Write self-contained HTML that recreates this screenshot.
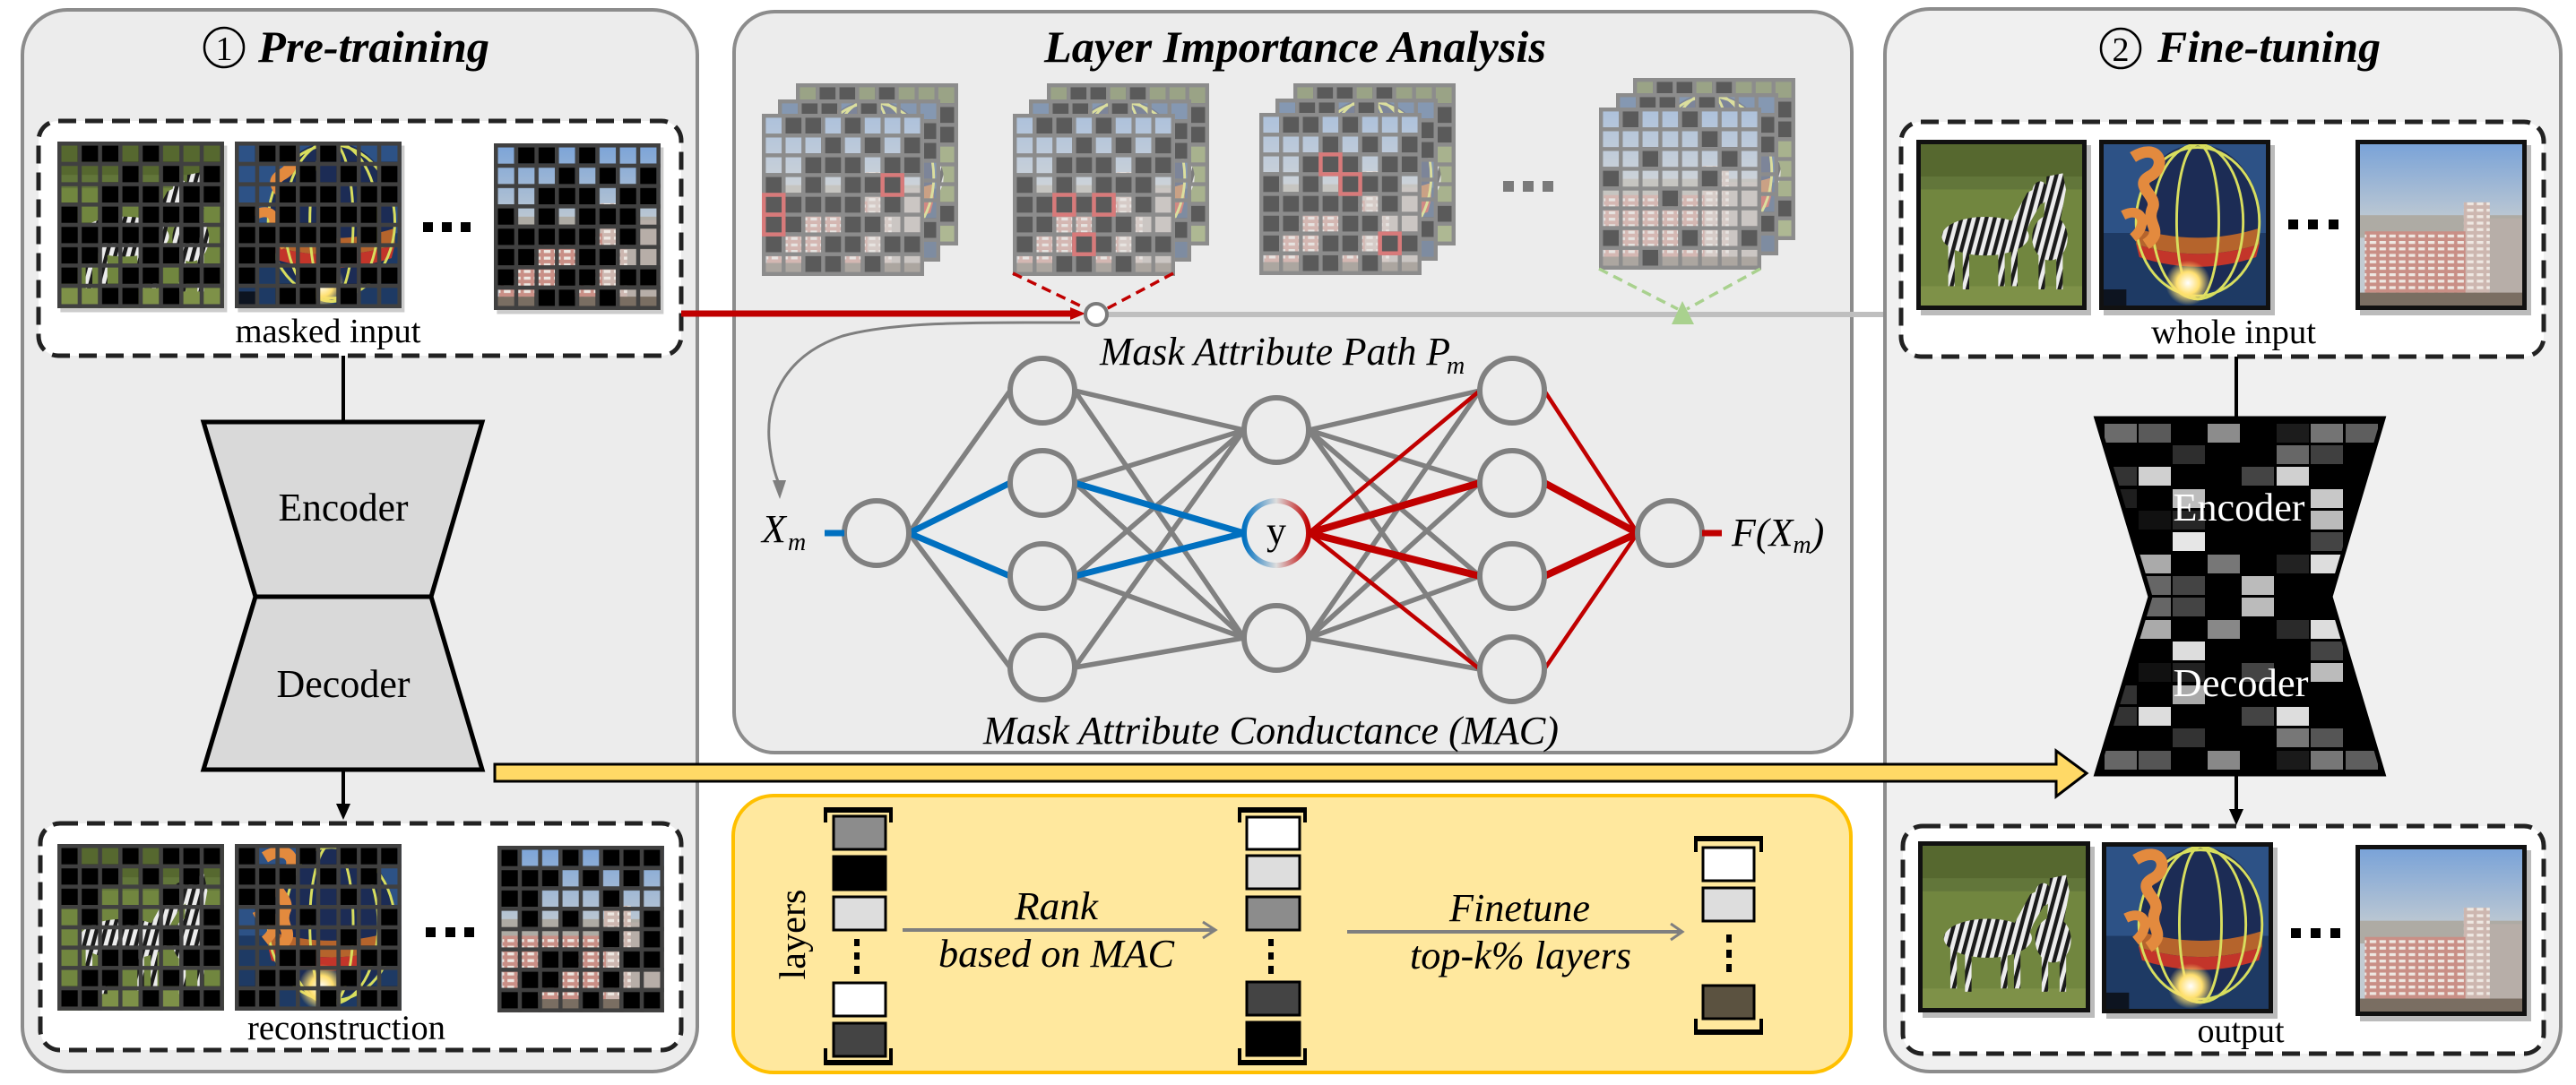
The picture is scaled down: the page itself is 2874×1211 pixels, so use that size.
<!DOCTYPE html>
<html><head><meta charset="utf-8">
<style>
html,body{margin:0;padding:0;background:#fff;}
svg{display:block;}
svg text{font-family:"Liberation Serif","DejaVu Serif",serif !important;}
</style></head><body>
<svg xmlns="http://www.w3.org/2000/svg" xmlns:xlink="http://www.w3.org/1999/xlink" width="2874" height="1211" viewBox="0 0 2874 1211" font-family="'Liberation Serif', 'DejaVu Serif', serif">
<defs>
<linearGradient id="sky" x1="0" y1="0" x2="0" y2="1"><stop offset="0" stop-color="#7aa3d8"/><stop offset="0.5" stop-color="#c2cbd2"/></linearGradient>
<radialGradient id="glow"><stop offset="0" stop-color="#ffffff"/><stop offset="0.5" stop-color="#ffe070"/><stop offset="1" stop-color="#ffe070" stop-opacity="0"/></radialGradient>
<linearGradient id="yg" x1="0" y1="0" x2="1" y2="0"><stop offset="0" stop-color="#0070c0"/><stop offset="0.5" stop-color="#dddddd"/><stop offset="1" stop-color="#c00000"/></linearGradient>
<pattern id="zst" width="5" height="5" patternUnits="userSpaceOnUse" patternTransform="rotate(15)"><rect width="5" height="5" fill="#ececec"/><rect width="2.4" height="5" fill="#1a1a1a"/></pattern>
<pattern id="win" width="6" height="4" patternUnits="userSpaceOnUse"><rect width="4" height="1.8" fill="#eee8e2"/></pattern>
<pattern id="gD" width="1" height="1" patternUnits="userSpaceOnUse"><path d="M0 0h1v0.2h-1zM0 0h0.2v1h-0.2z" fill="#404040"/></pattern>
<pattern id="gG" width="1" height="1" patternUnits="userSpaceOnUse"><path d="M0 0h1v0.2h-1zM0 0h0.2v1h-0.2z" fill="#8c8c8c"/></pattern>

<symbol id="zebra" viewBox="0 0 100 100" preserveAspectRatio="none">
<rect width="100" height="100" fill="#71863f"/>
<rect width="100" height="22" fill="#56682f"/>
<rect y="20" width="100" height="8" fill="#62763a"/>
<rect y="88" width="100" height="12" fill="#7e9148"/>
<g fill="url(#zst)">
<ellipse cx="40" cy="57" rx="27" ry="12"/>
<polygon points="54,52 66,30 74,26 76,34 68,48 62,62"/>
<ellipse cx="74" cy="30" rx="5" ry="7"/>
<rect x="17" y="62" width="4" height="26"/><rect x="26" y="64" width="4" height="26"/>
<rect x="48" y="64" width="4" height="24"/><rect x="56" y="62" width="4" height="26"/>
<ellipse cx="80" cy="58" rx="11" ry="14"/>
<polygon points="76,50 78,20 88,18 90,28 86,50"/>
<rect x="73" y="66" width="4" height="24"/><rect x="84" y="66" width="4" height="24"/>
</g>
</symbol>

<symbol id="balloon" viewBox="0 0 100 100" preserveAspectRatio="none">
<rect width="100" height="100" fill="#2d5286"/>
<rect y="55" width="100" height="45" fill="#1e3a64"/>
<ellipse cx="58" cy="46" rx="38" ry="46" fill="#1c2c55"/>
<path d="M20 52 Q58 64 96 52 L96 62 Q58 74 20 62Z" fill="#b5642c"/>
<path d="M20 62 Q58 74 96 62 L94 70 Q58 82 22 70Z" fill="#c3352a"/>
<g fill="none" stroke="#d8de5e" stroke-width="1.6"><ellipse cx="58" cy="48" rx="13" ry="48"/><ellipse cx="58" cy="48" rx="28" ry="48"/><ellipse cx="58" cy="48" rx="38" ry="46"/></g>
<path d="M18 8 C34 -2 40 14 28 20 C18 26 34 32 30 40 C26 50 38 54 26 62" fill="none" stroke="#e38a3e" stroke-width="7"/>
<path d="M12 44 C24 38 28 50 18 58" fill="none" stroke="#e38a3e" stroke-width="6"/>
<circle cx="52" cy="86" r="14" fill="url(#glow)"/>
<rect y="90" width="14" height="10" fill="#0d1420"/>
</symbol>

<symbol id="building" viewBox="0 0 100 100" preserveAspectRatio="none">
<rect width="100" height="100" fill="url(#sky)"/>
<rect y="44" width="100" height="14" fill="#aeaba4"/>
<rect x="64" y="36" width="16" height="64" fill="#cdb7b0"/>
<rect x="80" y="46" width="20" height="54" fill="#b7aea8"/>
<rect x="3" y="54" width="62" height="46" fill="#c98f86"/>
<rect x="3" y="54" width="62" height="46" fill="url(#win)"/>
<rect x="64" y="36" width="16" height="64" fill="url(#win)"/>
<rect y="92" width="100" height="8" fill="#7a6e62"/>
</symbol>

<path id="mA" d="M1 0h2v1h-2zM4 0h1v1h-1zM3 1h1v1h-1zM5 1h1v1h-1zM7 1h1v1h-1zM2 2h3v1h-3zM6 2h2v1h-2zM0 3h1v1h-1zM2 3h1v1h-1zM4 3h3v1h-3zM0 4h5v1h-5zM6 4h1v1h-1zM0 5h2v1h-2zM4 5h2v1h-2zM0 6h1v1h-1zM3 6h2v1h-2zM6 6h2v1h-2zM2 7h2v1h-2zM5 7h1v1h-1z"/>
<path id="mB" d="M0 0h1v1h-1zM3 0h1v1h-1zM5 0h3v1h-3zM0 1h3v1h-3zM4 1h1v1h-1zM6 1h1v1h-1zM0 2h2v1h-2zM5 2h1v1h-1zM1 3h1v1h-1zM3 3h1v1h-1zM7 3h1v1h-1zM5 4h1v1h-1zM7 4h1v1h-1zM2 5h2v1h-2zM6 5h2v1h-2zM1 6h2v1h-2zM5 6h1v1h-1zM0 7h2v1h-2zM4 7h1v1h-1zM6 7h2v1h-2z"/>
<path id="mC" d="M1 0h1v1h-1zM4 0h1v1h-1zM5 1h1v1h-1zM2 2h1v1h-1zM6 2h1v1h-1zM0 3h1v1h-1zM5 3h1v1h-1zM3 4h1v1h-1zM0 6h1v1h-1zM4 6h1v1h-1zM7 6h1v1h-1zM2 7h1v1h-1z"/>

<g id="iz"><rect x="0.15" y="0.2" width="8.2" height="8.2" fill="#999" opacity="0.5"/><use href="#zebra" xlink:href="#zebra" width="8.2" height="8.2"/><use href="#mA" xlink:href="#mA" fill="#000"/><rect width="8.2" height="8.2" fill="url(#gD)"/></g>
<g id="ib"><rect x="0.15" y="0.2" width="8.2" height="8.2" fill="#999" opacity="0.5"/><use href="#balloon" xlink:href="#balloon" width="8.2" height="8.2"/><use href="#mA" xlink:href="#mA" fill="#000"/><rect width="8.2" height="8.2" fill="url(#gD)"/></g>
<g id="ibd"><rect x="0.15" y="0.2" width="8.2" height="8.2" fill="#999" opacity="0.5"/><use href="#building" xlink:href="#building" width="8.2" height="8.2"/><use href="#mA" xlink:href="#mA" fill="#000"/><rect width="8.2" height="8.2" fill="url(#gD)"/></g>
<g id="rz"><use href="#zebra" xlink:href="#zebra" width="8.2" height="8.2"/><use href="#mB" xlink:href="#mB" fill="#000"/><rect width="8.2" height="8.2" fill="url(#gD)"/></g>
<g id="rb"><use href="#balloon" xlink:href="#balloon" width="8.2" height="8.2"/><use href="#mB" xlink:href="#mB" fill="#000"/><rect width="8.2" height="8.2" fill="url(#gD)"/></g>
<g id="rbd"><use href="#building" xlink:href="#building" width="8.2" height="8.2"/><use href="#mB" xlink:href="#mB" fill="#000"/><rect width="8.2" height="8.2" fill="url(#gD)"/></g>

<g id="fz"><rect width="8.2" height="8.2" fill="#e0e0e0"/><use href="#zebra" xlink:href="#zebra" width="8.2" height="8.2" opacity="0.5"/><use href="#mA" xlink:href="#mA" fill="#5a5a5a"/><rect width="8.2" height="8.2" fill="url(#gG)"/></g>
<g id="fm"><rect width="8.2" height="8.2" fill="#e0e0e0"/><use href="#balloon" xlink:href="#balloon" width="8.2" height="8.2" opacity="0.5"/><use href="#mA" xlink:href="#mA" fill="#5a5a5a"/><rect width="8.2" height="8.2" fill="url(#gG)"/></g>
<g id="fb"><rect width="8.2" height="8.2" fill="#e0e0e0"/><use href="#building" xlink:href="#building" width="8.2" height="8.2" opacity="0.5"/><use href="#mA" xlink:href="#mA" fill="#5a5a5a"/><rect width="8.2" height="8.2" fill="url(#gG)"/></g>
<g id="fb4"><rect width="8.2" height="8.2" fill="#e0e0e0"/><use href="#building" xlink:href="#building" width="8.2" height="8.2" opacity="0.5"/><use href="#mC" xlink:href="#mC" fill="#5a5a5a"/><rect width="8.2" height="8.2" fill="url(#gG)"/></g>

<clipPath id="hg"><polygon points="2339,467 2659,467 2600,666 2659,864 2339,864 2399,666"/></clipPath>
</defs>

<rect width="2874" height="1211" fill="#fff"/>

<!-- ================= LEFT PANEL ================= -->
<rect x="25" y="11" width="753" height="1185" rx="50" fill="#ececec" stroke="#8c8c8c" stroke-width="4"/>
<circle cx="250" cy="53" r="22" fill="none" stroke="#000" stroke-width="2.5"/>
<text x="250" y="67" font-size="38" text-anchor="middle">1</text>
<text x="288" y="69" font-size="50" font-weight="bold" font-style="italic" textLength="258" lengthAdjust="spacingAndGlyphs">Pre-training</text>

<rect x="43" y="135" width="717" height="262" rx="22" fill="#fff" stroke="#222" stroke-width="5" stroke-dasharray="20 10"/>
<use href="#iz" xlink:href="#iz" transform="translate(64,158) scale(22.68)"/>
<use href="#ib" xlink:href="#ib" transform="translate(262,158) scale(22.68)"/>
<use href="#ibd" xlink:href="#ibd" transform="translate(551,160) scale(22.68)"/>
<g fill="#000"><rect x="472" y="248" width="11" height="11"/><rect x="493" y="248" width="11" height="11"/><rect x="514" y="248" width="11" height="11"/></g>
<text x="366" y="382" font-size="38" text-anchor="middle" textLength="207" lengthAdjust="spacingAndGlyphs">masked input</text>

<line x1="383" y1="397" x2="383" y2="470" stroke="#000" stroke-width="4"/>
<polygon points="227,471 538,471 481,666 285,666" fill="#d9d9d9" stroke="#000" stroke-width="5" stroke-linejoin="miter"/>
<polygon points="285,666 481,666 538,859 227,859" fill="#d9d9d9" stroke="#000" stroke-width="5" stroke-linejoin="miter"/>
<text x="383" y="581" font-size="44" text-anchor="middle" textLength="145" lengthAdjust="spacingAndGlyphs">Encoder</text>
<text x="383" y="778" font-size="44" text-anchor="middle" textLength="149" lengthAdjust="spacingAndGlyphs">Decoder</text>
<line x1="383" y1="860" x2="383" y2="900" stroke="#000" stroke-width="4"/>
<polygon points="375,897 391,897 383,915" fill="#000"/>

<rect x="45" y="919" width="715" height="253" rx="22" fill="#fff" stroke="#222" stroke-width="5" stroke-dasharray="20 10"/>
<use href="#rz" xlink:href="#rz" transform="translate(64,942) scale(22.68)"/>
<use href="#rb" xlink:href="#rb" transform="translate(262,942) scale(22.68)"/>
<use href="#rbd" xlink:href="#rbd" transform="translate(555,944) scale(22.68)"/>
<g fill="#000"><rect x="475" y="1035" width="11" height="11"/><rect x="497" y="1035" width="11" height="11"/><rect x="518" y="1035" width="11" height="11"/></g>
<text x="276" y="1160" font-size="39" textLength="221" lengthAdjust="spacingAndGlyphs">reconstruction</text>

<!-- ================= MIDDLE PANEL ================= -->
<rect x="819" y="13" width="1247" height="827" rx="45" fill="#ececec" stroke="#8c8c8c" stroke-width="4"/>
<text x="1165" y="69" font-size="50" font-weight="bold" font-style="italic" textLength="560" lengthAdjust="spacingAndGlyphs">Layer Importance Analysis</text>

<use href="#fz" xlink:href="#fz" transform="translate(888,93) scale(22.07)"/>
<use href="#fm" xlink:href="#fm" transform="translate(868,111) scale(22.07)"/>
<use href="#fb" xlink:href="#fb" transform="translate(850,127) scale(22.07)"/>
<g transform="translate(850,127) scale(22.07)" fill="none" stroke="#d87a7a" stroke-width="0.2"><rect x="6.1" y="3.1" width="1" height="1"/><rect x="0.1" y="4.1" width="1" height="1"/><rect x="0.1" y="5.1" width="1" height="1"/></g>

<use href="#fz" xlink:href="#fz" transform="translate(1168,93) scale(22.07)"/>
<use href="#fm" xlink:href="#fm" transform="translate(1148,111) scale(22.07)"/>
<use href="#fb" xlink:href="#fb" transform="translate(1130,127) scale(22.07)"/>
<g transform="translate(1130,127) scale(22.07)" fill="none" stroke="#d87a7a" stroke-width="0.2"><rect x="2.1" y="4.1" width="1" height="1"/><rect x="4.1" y="4.1" width="1" height="1"/><rect x="3.1" y="6.1" width="1" height="1"/></g>

<use href="#fz" xlink:href="#fz" transform="translate(1443,93) scale(22.07)"/>
<use href="#fm" xlink:href="#fm" transform="translate(1423,110) scale(22.07)"/>
<use href="#fb" xlink:href="#fb" transform="translate(1405,126) scale(22.07)"/>
<g transform="translate(1405,126) scale(22.07)" fill="none" stroke="#d87a7a" stroke-width="0.2"><rect x="3.1" y="2.1" width="1" height="1"/><rect x="4.1" y="3.1" width="1" height="1"/><rect x="6.1" y="6.1" width="1" height="1"/></g>

<g fill="#7a7a7a"><rect x="1677" y="202" width="12" height="12"/><rect x="1699" y="202" width="12" height="12"/><rect x="1721" y="202" width="12" height="12"/></g>

<use href="#fz" xlink:href="#fz" transform="translate(1822,87) scale(22.07)"/>
<use href="#fm" xlink:href="#fm" transform="translate(1803,104) scale(22.07)"/>
<use href="#fb4" xlink:href="#fb4" transform="translate(1784,120) scale(22.07)"/>

<g fill="none" stroke="#c00000" stroke-width="3.5" stroke-dasharray="11 7"><line x1="1130" y1="305" x2="1213" y2="345"/><line x1="1309" y1="305" x2="1234" y2="345"/></g>
<g fill="none" stroke="#a9d18e" stroke-width="3.5" stroke-dasharray="11 7"><line x1="1784" y1="300" x2="1872" y2="345"/><line x1="1964" y1="300" x2="1882" y2="345"/></g>

<line x1="1236" y1="351" x2="2121" y2="351" stroke="#bfbfbf" stroke-width="6"/>
<line x1="760" y1="350" x2="1200" y2="350" stroke="#c00000" stroke-width="7"/>
<polygon points="1194,343 1211,350 1194,357" fill="#c00000"/>
<polygon points="1877,336 1865,362 1890,362" fill="#a9d18e"/>
<circle cx="1223" cy="351" r="12" fill="#fff" stroke="#7a7a7a" stroke-width="4"/>

<path d="M1205 360 C1100 360 1000 358 940 375 C880 395 855 440 858 490 C860 515 865 530 869 540" fill="none" stroke="#7f7f7f" stroke-width="3"/>
<polygon points="862,536 877,536 870,557" fill="#7f7f7f"/>

<text x="1227" y="407" font-size="44" font-style="italic" textLength="391" lengthAdjust="spacingAndGlyphs">Mask Attribute Path P</text>
<text x="1614" y="417" font-size="28" font-style="italic">m</text>

<path d="M1014 595L1127 436M1014 595L1127 745M1199 436L1388 480M1199 436L1388 712M1199 539L1388 480M1199 539L1388 712M1199 643L1388 480M1199 643L1388 712M1199 745L1388 480M1199 745L1388 712M1460 480L1651 436M1460 480L1651 539M1460 480L1651 643M1460 480L1651 747M1460 712L1651 436M1460 712L1651 539M1460 712L1651 643M1460 712L1651 747" stroke="#808080" stroke-width="5.5" fill="none"/>
<path d="M1014 595L1127 539M1014 595L1127 643M1199 539L1388 595M1199 643L1388 595" stroke="#0070c0" stroke-width="7" fill="none"/>
<path d="M1460 595L1651 436M1460 595L1651 747M1723 436L1827 595M1723 747L1827 595" stroke="#c00000" stroke-width="4.5" fill="none"/>
<path d="M1460 595L1651 539M1460 595L1651 643M1723 539L1827 595M1723 643L1827 595" stroke="#c00000" stroke-width="8" fill="none"/>

<g fill="#ececec" stroke="#808080" stroke-width="6">
<circle cx="978" cy="595" r="36"/>
<circle cx="1163" cy="436" r="36"/><circle cx="1163" cy="539" r="36"/><circle cx="1163" cy="643" r="36"/><circle cx="1163" cy="745" r="36"/>
<circle cx="1424" cy="480" r="36"/><circle cx="1424" cy="712" r="36"/>
<circle cx="1687" cy="436" r="36"/><circle cx="1687" cy="539" r="36"/><circle cx="1687" cy="643" r="36"/><circle cx="1687" cy="747" r="36"/>
<circle cx="1863" cy="595" r="36"/>
</g>
<circle cx="1424" cy="595" r="36" fill="#ececec" stroke="url(#yg)" stroke-width="6"/>
<text x="1424" y="607" font-size="44" text-anchor="middle">y</text>

<line x1="920" y1="595" x2="942" y2="595" stroke="#0070c0" stroke-width="7"/>
<line x1="1899" y1="595" x2="1921" y2="595" stroke="#c00000" stroke-width="7"/>
<text x="850" y="605" font-size="44" font-style="italic">X</text>
<text x="879" y="614" font-size="28" font-style="italic">m</text>
<text x="1932" y="609" font-size="44" font-style="italic">F(X<tspan font-size="28" dy="8">m</tspan><tspan font-size="44" dy="-8">)</tspan></text>

<text x="1097" y="830" font-size="44" font-style="italic" textLength="642" lengthAdjust="spacingAndGlyphs">Mask Attribute Conductance (MAC)</text>

<!-- ================= YELLOW BOX ================= -->
<rect x="818" y="888" width="1247" height="309" rx="45" fill="#ffe89e" stroke="#ffc000" stroke-width="4"/>
<text transform="translate(898,1043) rotate(-90)" font-size="41" text-anchor="middle" textLength="101" lengthAdjust="spacingAndGlyphs">layers</text>

<g fill="#000">
<rect x="919" y="901" width="77" height="6"/><rect x="919" y="901" width="4" height="17"/><rect x="992" y="901" width="4" height="17"/>
<rect x="919" y="1183" width="77" height="6"/><rect x="919" y="1170" width="4" height="19"/><rect x="992" y="1170" width="4" height="19"/>
<rect x="953" y="1048" width="6" height="8"/><rect x="953" y="1063" width="6" height="8"/><rect x="953" y="1078" width="6" height="9"/>
</g>
<g stroke="#000" stroke-width="3">
<rect x="930" y="911" width="58" height="37" fill="#8c8c8c"/>
<rect x="930" y="956" width="58" height="37" fill="#000"/>
<rect x="930" y="1001" width="58" height="37" fill="#dddddd"/>
<rect x="930" y="1097" width="58" height="37" fill="#ffffff"/>
<rect x="930" y="1142" width="58" height="37" fill="#444444"/>
</g>

<g fill="#000">
<rect x="1381" y="901" width="77" height="6"/><rect x="1381" y="901" width="4" height="17"/><rect x="1454" y="901" width="4" height="17"/>
<rect x="1381" y="1183" width="77" height="6"/><rect x="1381" y="1170" width="4" height="19"/><rect x="1454" y="1170" width="4" height="19"/>
<rect x="1415" y="1048" width="6" height="8"/><rect x="1415" y="1063" width="6" height="8"/><rect x="1415" y="1078" width="6" height="9"/>
</g>
<g stroke="#000" stroke-width="3">
<rect x="1391" y="912" width="59" height="36" fill="#ffffff"/>
<rect x="1391" y="955" width="59" height="37" fill="#dddddd"/>
<rect x="1391" y="1001" width="59" height="37" fill="#8c8c8c"/>
<rect x="1391" y="1096" width="59" height="37" fill="#444444"/>
<rect x="1391" y="1141" width="59" height="37" fill="#000000"/>
</g>

<g fill="#000">
<rect x="1890" y="933" width="77" height="6"/><rect x="1890" y="933" width="4" height="18"/><rect x="1963" y="933" width="4" height="18"/>
<rect x="1890" y="1149" width="77" height="6"/><rect x="1890" y="1137" width="4" height="18"/><rect x="1963" y="1137" width="4" height="18"/>
<rect x="1926" y="1043" width="6" height="9"/><rect x="1926" y="1060" width="6" height="9"/><rect x="1926" y="1076" width="6" height="9"/>
</g>
<g stroke="#000" stroke-width="3">
<rect x="1900" y="946" width="57" height="37" fill="#ffffff"/>
<rect x="1900" y="991" width="57" height="37" fill="#dddddd"/>
<rect x="1900" y="1100" width="57" height="37" fill="#5b5240"/>
</g>

<line x1="1007" y1="1038" x2="1354" y2="1038" stroke="#7f7f7f" stroke-width="4"/>
<polyline points="1342,1029 1356,1038 1342,1047" fill="none" stroke="#7f7f7f" stroke-width="3"/>
<line x1="1503" y1="1040" x2="1874" y2="1040" stroke="#7f7f7f" stroke-width="4"/>
<polyline points="1864,1031 1877,1040 1864,1049" fill="none" stroke="#7f7f7f" stroke-width="3"/>

<text x="1132" y="1026" font-size="44" font-style="italic" textLength="93" lengthAdjust="spacingAndGlyphs">Rank</text>
<text x="1047" y="1079" font-size="44" font-style="italic" textLength="263" lengthAdjust="spacingAndGlyphs">based on MAC</text>
<text x="1617" y="1028" font-size="44" font-style="italic" textLength="157" lengthAdjust="spacingAndGlyphs">Finetune</text>
<text x="1573" y="1081" font-size="44" font-style="italic" textLength="247" lengthAdjust="spacingAndGlyphs">top-k% layers</text>

<!-- ================= RIGHT PANEL ================= -->
<rect x="2103" y="10" width="754" height="1186" rx="50" fill="#f0f0f0" stroke="#8c8c8c" stroke-width="4"/>
<circle cx="2366" cy="54" r="22" fill="none" stroke="#000" stroke-width="2.5"/>
<text x="2366" y="68" font-size="38" text-anchor="middle">2</text>
<text x="2407" y="69" font-size="50" font-weight="bold" font-style="italic" textLength="249" lengthAdjust="spacingAndGlyphs">Fine-tuning</text>

<rect x="2121" y="136" width="717" height="262" rx="22" fill="#fff" stroke="#222" stroke-width="5" stroke-dasharray="20 10"/>
<g fill="#bbb"><rect x="2143" y="162" width="190" height="190"/><rect x="2347" y="162" width="191" height="190"/><rect x="2633" y="162" width="191" height="190"/></g>
<g fill="#111"><rect x="2138" y="156" width="190" height="190"/><rect x="2342" y="156" width="191" height="190"/><rect x="2628" y="156" width="191" height="190"/></g>
<use href="#zebra" xlink:href="#zebra" x="2143" y="161" width="180" height="180"/>
<use href="#balloon" xlink:href="#balloon" x="2347" y="161" width="181" height="180"/>
<use href="#building" xlink:href="#building" x="2633" y="161" width="181" height="180"/>
<g fill="#000"><rect x="2553" y="245" width="11" height="11"/><rect x="2575" y="245" width="11" height="11"/><rect x="2598" y="245" width="11" height="11"/></g>
<text x="2492" y="383" font-size="38" text-anchor="middle" textLength="184" lengthAdjust="spacingAndGlyphs">whole input</text>

<line x1="2495" y1="398" x2="2495" y2="468" stroke="#000" stroke-width="4"/>

<polygon points="2339,467 2659,467 2600,666 2659,864 2339,864 2399,666" fill="#000"/>
<g clip-path="url(#hg)">
<rect x="2348" y="473" width="36" height="21" fill="#6b6b6b"/><rect x="2386" y="473" width="36" height="21" fill="#5a5a5a"/><rect x="2463" y="473" width="36" height="21" fill="#8c8c8c"/><rect x="2540" y="473" width="36" height="21" fill="#1c1c1c"/><rect x="2578" y="473" width="36" height="21" fill="#747474"/><rect x="2617" y="473" width="36" height="21" fill="#5e5e5e"/>
<rect x="2424" y="497" width="36" height="21" fill="#2e2e2e"/><rect x="2540" y="497" width="36" height="21" fill="#676767"/><rect x="2578" y="497" width="36" height="21" fill="#404040"/>
<rect x="2348" y="521" width="36" height="21" fill="#333"/><rect x="2386" y="521" width="36" height="21" fill="#d0d0d0"/><rect x="2501" y="521" width="36" height="21" fill="#444"/><rect x="2540" y="521" width="36" height="21" fill="#d0d0d0"/>
<rect x="2348" y="546" width="36" height="21" fill="#1e1e1e"/><rect x="2424" y="546" width="36" height="21" fill="#bdbdbd"/><rect x="2578" y="546" width="36" height="21" fill="#c8c8c8"/>
<rect x="2386" y="570" width="36" height="21" fill="#111"/><rect x="2424" y="570" width="36" height="21" fill="#262626"/><rect x="2578" y="570" width="36" height="21" fill="#bbb"/>
<rect x="2424" y="594" width="36" height="21" fill="#e6e6e6"/><rect x="2578" y="594" width="36" height="21" fill="#444"/>
<rect x="2386" y="619" width="36" height="21" fill="#aaa"/><rect x="2463" y="619" width="36" height="21" fill="#777"/><rect x="2540" y="619" width="36" height="21" fill="#222"/><rect x="2578" y="619" width="36" height="21" fill="#ddd"/>
<rect x="2386" y="643" width="36" height="21" fill="#666"/><rect x="2424" y="643" width="36" height="21" fill="#444"/><rect x="2501" y="643" width="36" height="21" fill="#bbb"/>
<rect x="2386" y="667" width="36" height="21" fill="#666"/><rect x="2424" y="667" width="36" height="21" fill="#444"/><rect x="2501" y="667" width="36" height="21" fill="#bbb"/>
<rect x="2386" y="692" width="36" height="21" fill="#aaa"/><rect x="2463" y="692" width="36" height="21" fill="#888"/><rect x="2540" y="692" width="36" height="21" fill="#2a2a2a"/><rect x="2578" y="692" width="36" height="21" fill="#ddd"/>
<rect x="2424" y="716" width="36" height="21" fill="#ddd"/><rect x="2578" y="716" width="36" height="21" fill="#444"/>
<rect x="2386" y="740" width="36" height="21" fill="#111"/><rect x="2424" y="740" width="36" height="21" fill="#222"/><rect x="2501" y="740" width="36" height="21" fill="#444"/><rect x="2578" y="740" width="36" height="21" fill="#bbb"/>
<rect x="2348" y="765" width="36" height="21" fill="#333"/><rect x="2424" y="765" width="36" height="21" fill="#aaa"/>
<rect x="2348" y="789" width="36" height="21" fill="#333"/><rect x="2386" y="789" width="36" height="21" fill="#ddd"/><rect x="2501" y="789" width="36" height="21" fill="#444"/><rect x="2540" y="789" width="36" height="21" fill="#ddd"/>
<rect x="2424" y="813" width="36" height="21" fill="#333"/><rect x="2540" y="813" width="36" height="21" fill="#777"/><rect x="2578" y="813" width="36" height="21" fill="#555"/>
<rect x="2348" y="838" width="36" height="21" fill="#666"/><rect x="2386" y="838" width="36" height="21" fill="#555"/><rect x="2463" y="838" width="36" height="21" fill="#888"/><rect x="2540" y="838" width="36" height="21" fill="#1a1a1a"/><rect x="2578" y="838" width="36" height="21" fill="#777"/><rect x="2617" y="838" width="36" height="21" fill="#5e5e5e"/>
</g>
<polygon points="2339,467 2659,467 2600,666 2659,864 2339,864 2399,666" fill="none" stroke="#000" stroke-width="5"/>
<text x="2498" y="581" font-size="44" fill="#fff" text-anchor="middle" textLength="147" lengthAdjust="spacingAndGlyphs">Encoder</text>
<text x="2500" y="777" font-size="44" fill="#fff" text-anchor="middle" textLength="151" lengthAdjust="spacingAndGlyphs">Decoder</text>

<line x1="2495" y1="864" x2="2495" y2="906" stroke="#000" stroke-width="4"/>
<polygon points="2487,903 2503,903 2495,921" fill="#000"/>

<rect x="2123" y="922" width="715" height="254" rx="22" fill="#fff" stroke="#222" stroke-width="5" stroke-dasharray="20 10"/>
<g fill="#bbb"><rect x="2145" y="945" width="192" height="191"/><rect x="2350" y="946" width="191" height="191"/><rect x="2633" y="949" width="191" height="191"/></g>
<g fill="#111"><rect x="2140" y="939" width="192" height="191"/><rect x="2345" y="940" width="191" height="191"/><rect x="2628" y="943" width="191" height="191"/></g>
<use href="#zebra" xlink:href="#zebra" x="2145" y="944" width="182" height="181"/>
<use href="#balloon" xlink:href="#balloon" x="2350" y="945" width="181" height="181"/>
<use href="#building" xlink:href="#building" x="2633" y="948" width="181" height="181"/>
<g fill="#000"><rect x="2556" y="1036" width="11" height="11"/><rect x="2578" y="1036" width="11" height="11"/><rect x="2600" y="1036" width="11" height="11"/></g>
<text x="2500" y="1163" font-size="38" text-anchor="middle" textLength="97" lengthAdjust="spacingAndGlyphs">output</text>

<!-- ================= YELLOW TRANSFER ARROW ================= -->
<polygon points="552,853 2294,853 2294,838 2328,863 2294,889 2294,872 552,872" fill="#ffd966" stroke="#000" stroke-width="3" stroke-linejoin="miter"/>
</svg>
</body></html>
